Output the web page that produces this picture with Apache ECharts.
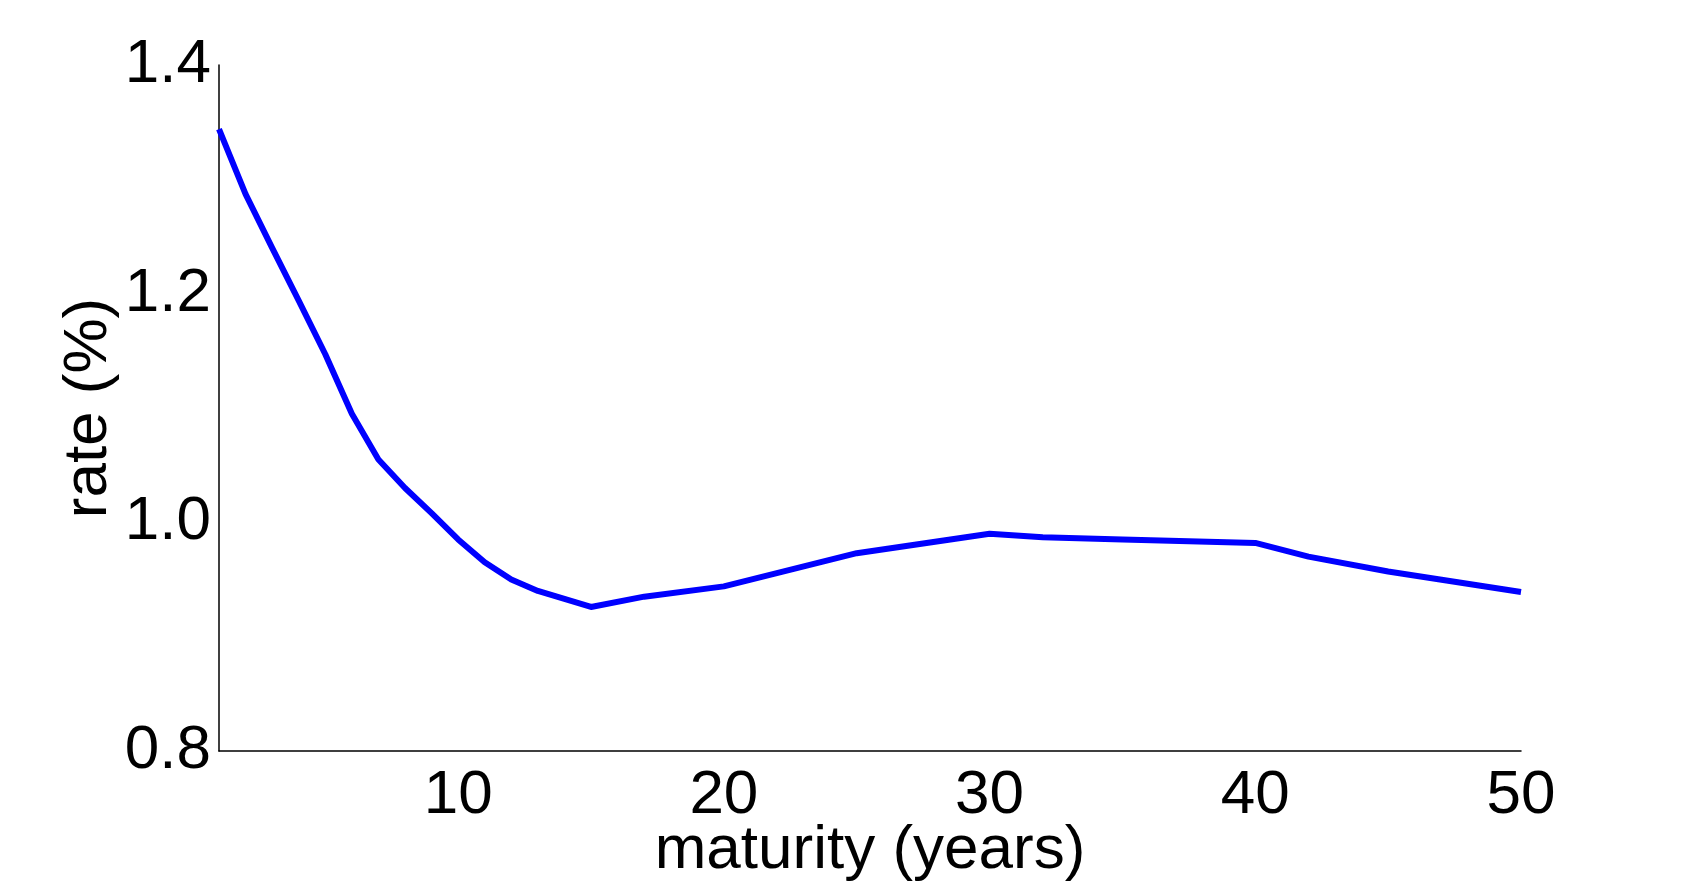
<!DOCTYPE html>
<html>
<head>
<meta charset="utf-8">
<script src="https://cdn.jsdelivr.net/npm/echarts@6/dist/echarts.min.js"></script>
<style>
html,body{margin:0;padding:0;background:#fff;}
#chart{width:1681px;height:887px;}
</style>
</head>
<body>
<div id="chart"></div>
<script>
// maturities (years) and rates (%)
const maturities = [1, 2, 3, 4, 5, 6, 7, 8, 9, 10, 11, 12, 13, 14, 15, 17, 20, 25, 30, 32, 35, 40, 42, 45, 50];
const rates = [1.344, 1.287, 1.240, 1.194, 1.147, 1.095, 1.055, 1.030, 1.008, 0.985, 0.965, 0.950, 0.940, 0.933, 0.926, 0.935, 0.944, 0.973, 0.990, 0.987, 0.985, 0.982, 0.970, 0.957, 0.939];
const xTicks = [10, 20, 30, 40, 50];
const yTicks = [0.8, 1.0, 1.2, 1.4];

const points = maturities.map((m, i) => [m, rates[i]]);
const FONT = '"Liberation Sans", Arial, Helvetica, sans-serif';

const chart = echarts.init(document.getElementById('chart'), null, {renderer: 'canvas'});
chart.setOption({
  animation: false,
  backgroundColor: '#ffffff',
  grid: {left: 219, right: 160, top: 65, bottom: 136, containLabel: false, outerBoundsMode: 'none'},
  xAxis: {
    type: 'value',
    min: 1,
    max: 50,
    name: 'maturity (years)',
    nameLocation: 'middle',
    nameGap: 69,
    nameMoveOverlap: false,
    nameTextStyle: {fontFamily: FONT, fontSize: 62, color: '#000'},
    axisLine: {show: true, onZero: false, lineStyle: {color: '#000', width: 1.5}},
    axisTick: {show: false},
    splitLine: {show: false},
    axisLabel: {
      customValues: xTicks,
      fontFamily: FONT, fontSize: 62, color: '#000', margin: 14,
      formatter: v => String(v)
    }
  },
  yAxis: {
    type: 'value',
    min: 0.8,
    max: 1.4,
    name: 'rate (%)',
    nameLocation: 'middle',
    nameGap: 99,
    nameRotate: 90,
    nameMoveOverlap: false,
    nameTextStyle: {fontFamily: FONT, fontSize: 62, color: '#000'},
    axisLine: {show: true, onZero: false, lineStyle: {color: '#000', width: 1.5}},
    axisTick: {show: false},
    splitLine: {show: false},
    axisLabel: {
      customValues: yTicks,
      fontFamily: FONT, fontSize: 62, color: '#000', margin: 8,
      formatter: v => Number(v).toFixed(1)
    }
  },
  series: [{
    type: 'line',
    data: points,
    showSymbol: false,
    symbol: 'none',
    lineStyle: {color: '#0000ff', width: 6, join: 'round'},
    itemStyle: {color: '#0000ff'}
  }]
});
</script>
</body>
</html>
